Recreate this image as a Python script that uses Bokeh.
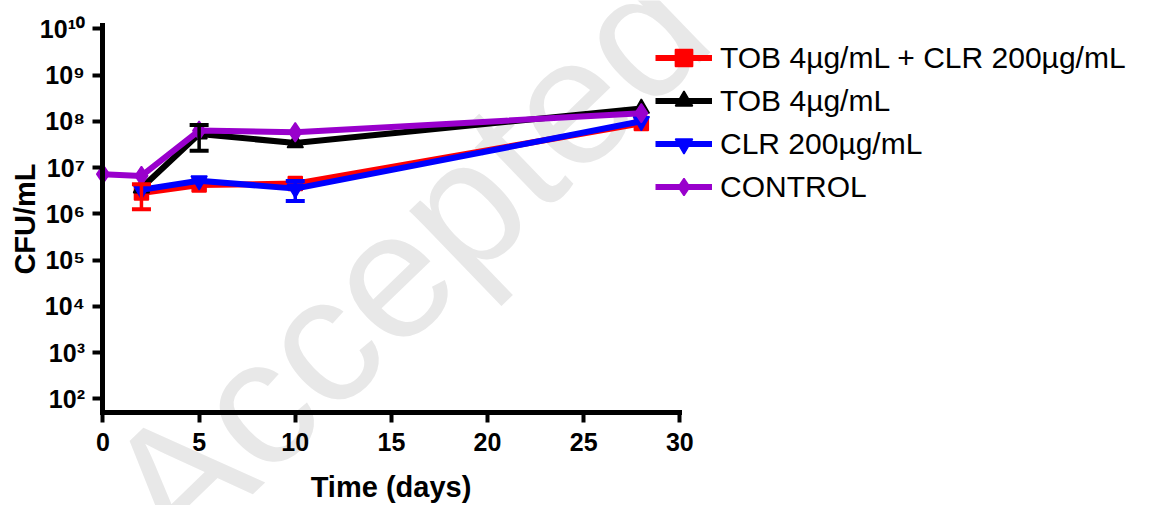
from bokeh.plotting import figure
from bokeh.models import (Range1d, FixedTicker, Legend, LegendItem, Whisker,
                          ColumnDataSource, Label)
from bokeh.embed import file_html
from bokeh.resources import INLINE

# ---- data ----
days_control = [0, 2, 5, 10, 28]
control = [7.2e6, 6.6e6, 6.3e7, 5.8e7, 1.5e8]

days = [2, 5, 10, 28]
tob_clr = [2.8e6, 4.2e6, 4.5e6, 9.0e7]
tob_clr_err = [1.55e6, 0.0, 0.0, 0.0]
tob = [3.6e6, 5.3e7, 3.4e7, 1.9e8]
tob_err = [0.0, 3.0e7, 0.0, 0.0]
clr = [3.3e6, 5.2e6, 3.5e6, 1.0e8]
clr_err = [0.0, 0.0, 1.6e6, 0.0]

series_names = ["TOB 4µg/mL + CLR 200µg/mL", "TOB 4µg/mL", "CLR 200µg/mL", "CONTROL"]
series_colors = ["#FF0000", "#000000", "#0000FF", "#9900CC"]

x_ticks = [0, 5, 10, 15, 20, 25, 30]
x_bounds = (0, 30)
y_tick_values = [1e2, 1e3, 1e4, 1e5, 1e6, 1e7, 1e8, 1e9, 1e10]
y_tick_labels = ["10²", "10³", "10⁴", "10⁵", "10⁶", "10⁷", "10⁸", "10⁹", "10¹⁰"]
y_bounds = (51.8, 1.18e10)

FONT = "Liberation Sans"
W, H = 1149, 505

p = figure(width=W, height=H,
           x_range=Range1d(-5.331, 54.43), y_range=Range1d(0.493, 4.09e10),
           y_axis_type="log", output_backend="svg", toolbar_location=None,
           min_border=0)
p.outline_line_color = None
p.xgrid.visible = False
p.ygrid.visible = False
p.background_fill_color = "white"
p.border_fill_color = "white"

# watermark of the source page
wm = Label(x=135, y=-15, x_units="screen", y_units="screen",
           text="Accepted", angle=0.768, angle_units="rad",
           text_font=FONT, text_font_size="180px", text_color="#e8e8e8",
           text_baseline="alphabetic", level="underlay")
p.add_layout(wm)

for ax in (p.xaxis[0], p.yaxis[0]):
    ax.axis_line_width = 5
    ax.axis_line_cap = "square"
    ax.major_tick_line_width = 4
    ax.major_tick_out = 10
    ax.major_tick_in = 0
    ax.minor_tick_line_color = None
    ax.major_label_text_font = FONT
    ax.major_label_text_font_style = "bold"
    ax.major_label_text_color = "black"
    ax.axis_label_text_font = FONT
    ax.axis_label_text_font_style = "bold"
    ax.axis_label_text_font_size = "29px"
    ax.axis_label_text_color = "black"

p.xaxis.ticker = FixedTicker(ticks=x_ticks)
p.xaxis.bounds = x_bounds
p.xaxis.fixed_location = y_bounds[0]
p.xaxis.axis_label = "Time (days)"
p.xaxis.major_label_text_font_size = "25px"
p.xaxis.major_label_standoff = 11
p.xaxis.axis_label_standoff = 16

p.yaxis.ticker = FixedTicker(ticks=y_tick_values)
p.yaxis.bounds = y_bounds
p.yaxis.fixed_location = x_bounds[0]
p.yaxis.major_label_overrides = {v: l for v, l in zip(y_tick_values, y_tick_labels)}
p.yaxis.axis_label = "CFU/mL"
p.yaxis.major_label_text_font_size = "25px"
p.yaxis.major_label_standoff = 8
p.yaxis.axis_label_standoff = -5

items = []
series = [
    (days, tob_clr, tob_clr_err, "square", 14),
    (days, tob, tob_err, "triangle", 16),
    (days, clr, clr_err, "inverted_triangle", 16),
    (days_control, control, None, "diamond", 19),
]
for (xs, ys, errs, marker, size), name, col in zip(series, series_names, series_colors):
    if errs is not None:
        ex = [x for x, e in zip(xs, errs) if e > 0]
        ey = [y for y, e in zip(ys, errs) if e > 0]
        ee = [e for e in errs if e > 0]
        src = ColumnDataSource(dict(x=ex, lo=[y - e for y, e in zip(ey, ee)],
                                    hi=[y + e for y, e in zip(ey, ee)]))
        w = Whisker(base="x", lower="lo", upper="hi", source=src,
                    line_color=col, line_width=3.5, level="glyph")
        for head in (w.upper_head, w.lower_head):
            head.size = 19
            head.line_color = col
            head.line_width = 4
        p.add_layout(w)
    r1 = p.line(xs, ys, line_color=col, line_width=6)
    r2 = p.scatter(xs, ys, marker=marker, size=size,
                   fill_color=col, line_color=col, line_width=1.5)
    items.append(LegendItem(label=name, renderers=[r1, r2]))

legend = Legend(items=items, location=(655, 297), border_line_color=None,
                background_fill_alpha=0, padding=0, margin=0, spacing=0,
                glyph_width=57, glyph_height=43, label_height=43,
                label_standoff=8, label_text_font=FONT,
                label_text_font_size="30px", label_text_color="black",
                label_text_baseline="middle")
p.add_layout(legend)

open("out.html", "w").write(file_html(p, INLINE))
